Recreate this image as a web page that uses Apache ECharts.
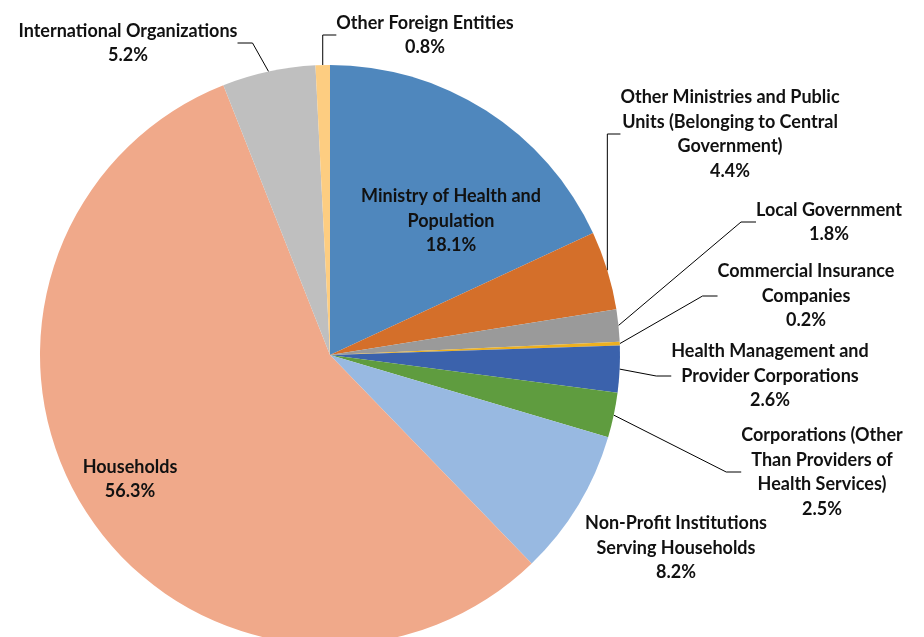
<!DOCTYPE html>
<html>
<head>
<meta charset="utf-8">
<style>
  html, body { margin: 0; padding: 0; background: #fff; }
  #main { width: 924px; height: 637px; }
</style>
<script src="https://cdn.jsdelivr.net/npm/echarts@6/dist/echarts.min.js"></script>
</head>
<body>
<div id="main"></div>
<script>
// slices, clockwise from 12 o'clock
var categories = [
  'Ministry of Health and\nPopulation',
  'Other Ministries and Public\nUnits (Belonging to Central\nGovernment)',
  'Local Government',
  'Commercial Insurance\nCompanies',
  'Health Management and\nProvider Corporations',
  'Corporations (Other\nThan Providers of\nHealth Services)',
  'Non-Profit Institutions\nServing Households',
  'Households',
  'International Organizations',
  'Other Foreign Entities'
];
var shares = [18.1, 4.4, 1.8, 0.2, 2.6, 2.5, 8.2, 56.3, 5.2, 0.8];

var colors = ['#4F87BD', '#D46F2A', '#9A9A9A', '#EDB020', '#3B62AC',
              '#5F9C3F', '#98B9E1', '#F0A98A', '#BFBFBF', '#FDCD81'];

// label centres (px)
var labelPos = [
  [451, 221], [730, 134], [829, 222], [806, 296], [770, 376],
  [822, 472], [676, 548], [130, 479], [128, 43], [425, 35]
];
var noLine = [0, 6, 7];

var myChart = echarts.init(document.getElementById('main'));

var seriesData = categories.map(function (name, i) {
  return {
    name: name,
    value: shares[i],
    itemStyle: { color: colors[i] },
    labelLine: { show: noLine.indexOf(i) < 0 }
  };
});

var option = {
  animation: false,
  series: [
    {
      type: 'pie',
      center: [330, 355],
      radius: 290,
      startAngle: 90,
      clockwise: true,
      avoidLabelOverlap: false,
      data: seriesData,
      itemStyle: { borderWidth: 0 },
      emphasis: { disabled: true },
      label: {
        show: true,
        position: 'outside',
        formatter: function (p) {
          return p.name + '\n' + p.value.toFixed(1) + '%';
        },
        fontFamily: 'Lato',
        fontWeight: 'bold',
        fontSize: 18,
        lineHeight: 24.5,
        color: '#111',
        align: 'center'
      },
      labelLine: {
        show: true,
        length: 20,
        length2: 15,
        lineStyle: { color: '#000', width: 1 }
      },
      labelLayout: function (params) {
        var p = labelPos[params.dataIndex];
        return { x: p[0], y: p[1], align: 'center', verticalAlign: 'middle' };
      }
    }
  ]
};

myChart.setOption(option);
</script>
</body>
</html>
